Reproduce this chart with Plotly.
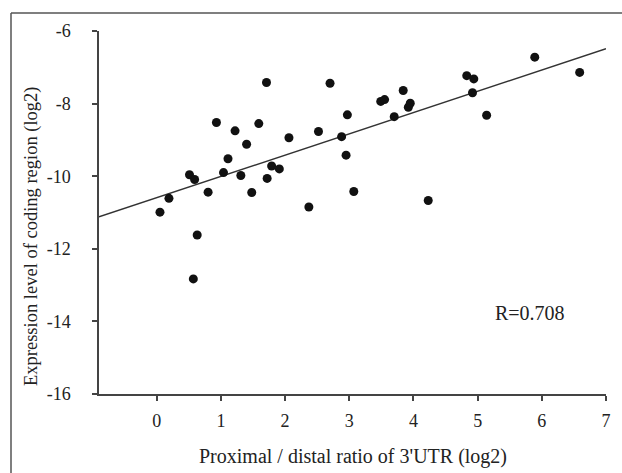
import numpy as np
import plotly.graph_objects as go

# Proximal / distal ratio of 3'UTR (log2)
ratio_log2 = [1.71, 2.70, 2.97, 0.93, 1.22, 1.59, 1.40, 2.06, 2.52, 2.88,
              2.95, 1.11, 0.51, 0.59, 1.04, 1.31, 1.79, 1.91, 1.72, 0.19,
              0.05, 0.80, 1.48, 3.07, 2.37, 0.63, 0.57,
              5.89, 6.59, 4.83, 4.94, 4.92, 5.14, 3.84, 3.49, 3.55, 3.92,
              3.95, 3.70, 4.23]
# Expression level of coding region (log2)
expr_log2 = [-7.42, -7.44, -8.31, -8.52, -8.75, -8.55, -9.12, -8.94, -8.77, -8.91,
             -9.42, -9.52, -9.96, -10.09, -9.90, -9.98, -9.72, -9.80, -10.06, -10.61,
             -10.99, -10.44, -10.45, -10.42, -10.85, -11.62, -12.83,
             -6.72, -7.14, -7.23, -7.32, -7.70, -8.32, -7.64, -7.94, -7.89, -8.10,
             -7.99, -8.36, -10.67]

x_ticks = [0, 1, 2, 3, 4, 5, 6, 7]
x_ticklabels = ["0", "1", "2", "3", "4", "5", "6", "7"]
y_ticks = [-16, -14, -12, -10, -8, -6]
y_ticklabels = ["-16", "-14", "-12", "-10", "-8", "-6"]
x_range = [-0.9, 7]
y_range = [-16, -6]
r_label = "R=0.708"
x_title = "Proximal / distal ratio of 3'UTR (log2)"
y_title = "Expression level of coding region (log2)"

slope, intercept = np.polyfit(ratio_log2, expr_log2, 1)
line_x = np.array(x_range)
line_y = slope * line_x + intercept

font_family = "Liberation Serif"
text_color = "#222222"
axis_color = "#444444"
frame_color = "#555555"

W, H = 622, 473
L, R, T, B = 99, 16, 31, 79
pw, ph = W - L - R, H - T - B


def px_x(px):
    return (px - L) / pw


def px_y(py):
    return (H - B - py) / ph


fig = go.Figure()
fig.add_trace(go.Scatter(x=line_x, y=line_y, mode="lines",
                         line=dict(color="#333333", width=1.5),
                         hoverinfo="skip", showlegend=False, cliponaxis=False))
fig.add_trace(go.Scatter(x=ratio_log2, y=expr_log2, mode="markers",
                         marker=dict(color="#111111", size=9),
                         showlegend=False, cliponaxis=False))

fig.add_annotation(x=5.81, y=-13.77, text=r_label, showarrow=False,
                   font=dict(family=font_family, size=20, color=text_color))
fig.add_annotation(xref="paper", yref="paper", x=0.5, y=px_y(456.7),
                   text=x_title, showarrow=False, xanchor="center", yanchor="middle",
                   font=dict(family=font_family, size=20, color=text_color))
fig.add_annotation(xref="paper", yref="paper", x=px_x(31), y=px_y(236),
                   text=y_title, showarrow=False, textangle=-90,
                   xanchor="center", yanchor="middle",
                   font=dict(family=font_family, size=18.5, color=text_color))

# outer frame (left and top edges)
fig.add_shape(type="line", xref="paper", yref="paper",
              x0=px_x(11), x1=px_x(11), y0=px_y(H + 2), y1=px_y(13),
              line=dict(color=frame_color, width=1.5))
fig.add_shape(type="line", xref="paper", yref="paper",
              x0=px_x(11), x1=px_x(W + 2), y0=px_y(13), y1=px_y(13),
              line=dict(color=frame_color, width=1.5))

fig.update_layout(
    width=W, height=H,
    margin=dict(l=L, r=R, t=T, b=B, autoexpand=False),
    paper_bgcolor="white", plot_bgcolor="white",
    font=dict(family=font_family, size=18, color=text_color),
    xaxis=dict(range=x_range, tickvals=x_ticks, ticktext=x_ticklabels,
               showgrid=False, zeroline=False, automargin=False,
               showline=True, linecolor=axis_color, linewidth=1.5,
               ticks="outside", ticklen=5, tickcolor=axis_color, tickwidth=1.5,
               ticklabelstandoff=5, tickfont=dict(size=18, family=font_family)),
    yaxis=dict(range=y_range, tickvals=y_ticks, ticktext=y_ticklabels,
               showgrid=False, zeroline=False, automargin=False,
               showline=True, linecolor=axis_color, linewidth=1.5,
               ticks="outside", ticklen=5, tickcolor=axis_color, tickwidth=1.5,
               ticklabelstandoff=18, tickfont=dict(size=18, family=font_family)),
)
fig.write_html("out.html",
               config={"displayModeBar": False},
               post_script="document.body.style.margin='0px';document.body.style.overflow='hidden';")
